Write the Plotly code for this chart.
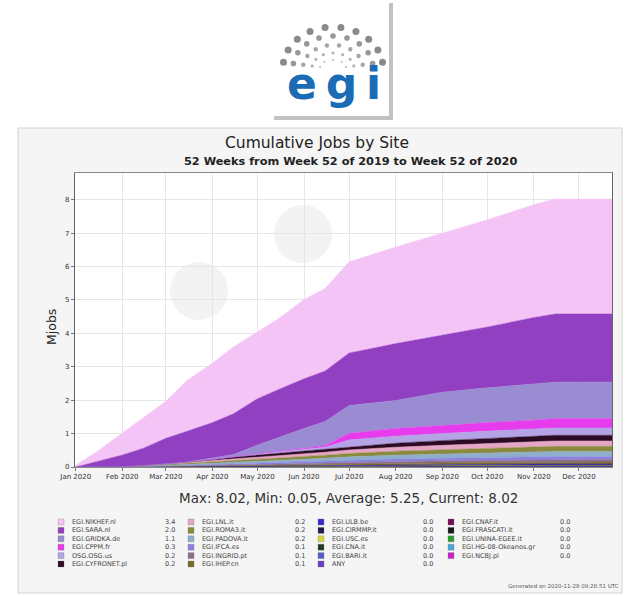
import plotly.graph_objects as go
import math

# ---------------- data ----------------
dates = ["2020-01-01", "2020-01-15", "2020-02-01", "2020-02-15", "2020-03-01",
         "2020-03-15", "2020-04-01", "2020-04-15", "2020-05-01", "2020-05-15",
         "2020-06-01", "2020-06-15", "2020-07-01", "2020-08-01", "2020-09-01",
         "2020-10-01", "2020-11-01", "2020-11-15", "2020-12-23"]

month_ticks = ["2020-01-01", "2020-02-01", "2020-03-01", "2020-04-01", "2020-05-01",
               "2020-06-01", "2020-07-01", "2020-08-01", "2020-09-01", "2020-10-01",
               "2020-11-01", "2020-12-01"]
month_labels = ["Jan 2020", "Feb 2020", "Mar 2020", "Apr 2020", "May 2020", "Jun 2020",
                "Jul 2020", "Aug 2020", "Sep 2020", "Oct 2020", "Nov 2020", "Dec 2020"]

site_names = ["EGI.NIKHEF.nl", "EGI.SARA.nl", "EGI.GRIDKA.de", "EGI.CPPM.fr",
              "OSG.OSG.us", "EGI.CYFRONET.pl", "EGI.LNL.it", "EGI.ROMA3.it",
              "EGI.PADOVA.it", "EGI.IFCA.es", "EGI.INGRID.pt", "EGI.IHEP.cn",
              "EGI.ULB.be", "EGI.CIRMMP.it", "EGI.USC.es", "EGI.CNA.it",
              "EGI.BARI.it", "ANY", "EGI.CNAF.it", "EGI.FRASCATI.it",
              "EGI.UNINA-EGEE.it", "EGI.HG-08-Okeanos.gr", "EGI.NCBJ.pl"]

legend_values = ["3.4", "2.0", "1.1", "0.3", "0.2", "0.2", "0.2", "0.2", "0.2",
                 "0.1", "0.1", "0.1", "0.0", "0.0", "0.0", "0.0", "0.0", "0.0",
                 "0.0", "0.0", "0.0", "0.0", "0.0"]

nikhef = [0.05, 0.29, 0.66, 0.91, 1.11, 1.52, 1.78, 2.00, 2.00, 2.12, 2.37, 2.47, 2.73, 2.89, 3.05, 3.21, 3.38, 3.44, 3.44]
sara = [0.0, 0.17, 0.35, 0.52, 0.77, 0.92, 1.06, 1.22, 1.39, 1.43, 1.49, 1.51, 1.57, 1.70, 1.71, 1.82, 1.99, 2.04, 2.04]
gridka = [0.0, 0.0, 0.0, 0.0, 0.0, 0.0, 0.04, 0.06, 0.26, 0.42, 0.60, 0.72, 0.83, 0.84, 0.985, 1.04, 1.08, 1.09, 1.09]
cppm = [0, 0, 0, 0, 0, 0, 0, 0, 0.01, 0.02, 0.03, 0.05, 0.20, 0.23, 0.25, 0.26, 0.27, 0.28, 0.28]
osg = [0, 0, 0, 0, 0, 0, 0.01, 0.02, 0.03, 0.04, 0.05, 0.06, 0.20, 0.21, 0.215, 0.22, 0.22, 0.22, 0.22]
cyfronet = [0, 0, 0, 0, 0, 0.01, 0.03, 0.05, 0.06, 0.07, 0.08, 0.09, 0.10, 0.12, 0.14, 0.15, 0.16, 0.17, 0.17]
lnl = [0, 0, 0.002, 0.01, 0.02, 0.03, 0.04, 0.05, 0.06, 0.07, 0.08, 0.09, 0.105, 0.12, 0.135, 0.145, 0.155, 0.16, 0.16]
roma3 = [0, 0, 0.002, 0.01, 0.02, 0.03, 0.04, 0.05, 0.06, 0.07, 0.08, 0.09, 0.10, 0.12, 0.13, 0.14, 0.15, 0.155, 0.155]
padova = [0, 0, 0.002, 0.01, 0.02, 0.03, 0.04, 0.05, 0.06, 0.065, 0.075, 0.085, 0.10, 0.115, 0.125, 0.135, 0.145, 0.15, 0.15]
ifca = [0, 0, 0.001, 0.005, 0.01, 0.015, 0.02, 0.03, 0.035, 0.04, 0.045, 0.05, 0.06, 0.07, 0.075, 0.08, 0.087, 0.09, 0.09]
ingrid = [0, 0, 0.001, 0.005, 0.01, 0.015, 0.02, 0.025, 0.03, 0.035, 0.04, 0.045, 0.05, 0.058, 0.063, 0.068, 0.072, 0.075, 0.075]
ihep = [0, 0, 0.001, 0.004, 0.008, 0.012, 0.016, 0.02, 0.024, 0.028, 0.032, 0.036, 0.04, 0.046, 0.05, 0.054, 0.057, 0.06, 0.06]
ulb = [0, 0, 0, 0, 0.001, 0.002, 0.003, 0.004, 0.005, 0.006, 0.007, 0.008, 0.01, 0.012, 0.014, 0.016, 0.018, 0.02, 0.02]
cirmmp = [0, 0, 0, 0, 0.001, 0.002, 0.003, 0.004, 0.005, 0.006, 0.007, 0.008, 0.009, 0.01, 0.011, 0.012, 0.014, 0.015, 0.015]
usc = [0, 0, 0, 0, 0.001, 0.001, 0.002, 0.003, 0.004, 0.005, 0.006, 0.007, 0.008, 0.009, 0.01, 0.011, 0.012, 0.012, 0.012]
cna = [0, 0, 0, 0, 0, 0.001, 0.002, 0.002, 0.003, 0.004, 0.005, 0.006, 0.007, 0.008, 0.008, 0.009, 0.01, 0.01, 0.01]
bari = [0, 0, 0, 0, 0, 0.001, 0.001, 0.002, 0.003, 0.003, 0.004, 0.005, 0.005, 0.006, 0.007, 0.007, 0.008, 0.008, 0.008]
any_site = [0, 0, 0, 0, 0, 0, 0.001, 0.001, 0.002, 0.003, 0.003, 0.004, 0.005, 0.005, 0.006, 0.006, 0.007, 0.007, 0.007]
cnaf = [0, 0, 0, 0, 0, 0, 0.001, 0.001, 0.002, 0.002, 0.003, 0.003, 0.004, 0.004, 0.005, 0.005, 0.006, 0.006, 0.006]
frascati = [0, 0, 0, 0, 0, 0, 0, 0.001, 0.001, 0.002, 0.002, 0.003, 0.003, 0.004, 0.004, 0.005, 0.005, 0.005, 0.005]
unina = [0, 0, 0, 0, 0, 0, 0, 0.001, 0.001, 0.001, 0.002, 0.002, 0.003, 0.003, 0.003, 0.004, 0.004, 0.004, 0.004]
hg08 = [0, 0, 0, 0, 0, 0, 0, 0, 0.001, 0.001, 0.001, 0.001, 0.001, 0.002, 0.002, 0.002, 0.002, 0.002, 0.002]
ncbj = [0, 0, 0, 0, 0, 0, 0, 0, 0, 0, 0.001, 0.001, 0.001, 0.001, 0.001, 0.001, 0.001, 0.001, 0.001]

series_values = [nikhef, sara, gridka, cppm, osg, cyfronet, lnl, roma3, padova,
                 ifca, ingrid, ihep, ulb, cirmmp, usc, cna, bari, any_site,
                 cnaf, frascati, unina, hg08, ncbj]

site_colors = ["#f5c4f6", "#9040c0", "#9a8cd2", "#e63cee", "#b4a4e6", "#2c0a24",
               "#e6a6c6", "#8a8a3c", "#8eaecc", "#8a82de", "#8e6e8a", "#7a6a2c",
               "#3a2ad0", "#1c1c52", "#d6d63e", "#1e3c22", "#5a5ac6", "#6a3cc6",
               "#7a0a5a", "#1a1a1a", "#2c9a2c", "#48a6d8", "#c820c8"]

title_text = "Cumulative Jobs by Site"
subtitle_text = "52 Weeks from Week 52 of 2019 to Week 52 of 2020"
stats_text = "Max: 8.02, Min: 0.05, Average: 5.25, Current: 8.02"
generated_text = "Generated on 2020-11-28 09:28:51 UTC"
y_title = "Mjobs"
y_ticks = [0, 1, 2, 3, 4, 5, 6, 7, 8]

# ---------------- geometry helpers (pixel -> paper) ----------------
W, H = 626, 596
PL, PR, PT, PB = 75, 612, 173, 467


def px(x):
    return (x - PL) / (PR - PL)


def py(y):
    return (PB - y) / (PB - PT)


FONT = "DejaVu Sans"

fig = go.Figure()

# stacked areas: smallest at bottom, largest on top
for name, vals, col in reversed(list(zip(site_names, series_values, site_colors))):
    fig.add_trace(go.Scatter(
        x=dates, y=vals, name=name, mode="lines", stackgroup="one",
        line=dict(width=0.5, color=col), fillcolor=col, hoverinfo="x+y+name"))

shapes = []
annotations = []

# background panel
shapes.append(dict(type="rect", xref="paper", yref="paper", layer="below",
                   x0=px(18), x1=px(622), y0=py(593), y1=py(128),
                   fillcolor="#f5f5f5", line=dict(color="#d4d4d4", width=1)))
# plot area white
shapes.append(dict(type="rect", xref="paper", yref="paper", layer="below",
                   x0=0, x1=1, y0=0, y1=1, fillcolor="white", line=dict(width=0)))
# faint watermark circles
for cx, cy, r in [(199, 291, 29), (303, 234, 29)]:
    shapes.append(dict(type="circle", xref="paper", yref="paper", layer="below",
                       x0=px(cx - r), x1=px(cx + r), y0=py(cy + r), y1=py(cy - r),
                       fillcolor="#f3f3f3", line=dict(width=0)))

# ---- logo ----
shapes.append(dict(type="rect", xref="paper", yref="paper",
                   x0=px(274), x1=px(393), y0=py(120), y1=py(3),
                   fillcolor="#8f8f8f", opacity=0.55, line=dict(width=0)))
shapes.append(dict(type="rect", xref="paper", yref="paper",
                   x0=px(270), x1=px(389), y0=py(116), y1=py(-2),
                   fillcolor="white", line=dict(width=0)))
rings = [(50, 41, 10, 7.0, "#8a8a8a"), (40, 32, 9, 5.6, "#989898"),
         (30, 23, 8, 4.4, "#a6a6a6"), (21, 15, 7, 3.2, "#b4b4b4"),
         (13, 8, 5, 2.2, "#c2c2c2")]
lcx, lcy = 333, 68
for rx, ry, n, d, col in rings:
    for i in range(n):
        a = math.radians(8 + i * (164 / (n - 1)))
        dx = lcx + rx * math.cos(a)
        dy = lcy - ry * math.sin(a)
        shapes.append(dict(type="circle", xref="paper", yref="paper",
                           x0=px(dx - d / 2), x1=px(dx + d / 2),
                           y0=py(dy + d / 2), y1=py(dy - d / 2),
                           fillcolor=col, line=dict(width=0)))
annotations.append(dict(text="<b>e\u2009g\u2009i</b>", xref="paper", yref="paper",
                        x=px(334), y=py(83), xanchor="center", yanchor="middle",
                        showarrow=False,
                        font=dict(family=FONT, size=44, color="#1a6db5")))

# ---- titles ----
annotations.append(dict(text=title_text, xref="paper", yref="paper", x=px(317), y=py(143),
                        xanchor="center", yanchor="middle", showarrow=False,
                        font=dict(family=FONT, size=15.5, color="#222")))
annotations.append(dict(text="<b>" + subtitle_text + "</b>", xref="paper", yref="paper",
                        x=px(350), y=py(161), xanchor="center", yanchor="middle",
                        showarrow=False, font=dict(family=FONT, size=11.3, color="#222")))
annotations.append(dict(text=y_title, xref="paper", yref="paper", x=px(51), y=py(327),
                        xanchor="center", yanchor="middle", textangle=-90, showarrow=False,
                        font=dict(family=FONT, size=12.5, color="#222")))
annotations.append(dict(text=stats_text, xref="paper", yref="paper", x=px(348), y=py(498),
                        xanchor="center", yanchor="middle", showarrow=False,
                        font=dict(family=FONT, size=13.5, color="#333")))
annotations.append(dict(text=generated_text, xref="paper", yref="paper", x=px(621), y=py(586),
                        xanchor="right", yanchor="middle", showarrow=False,
                        font=dict(family=FONT, size=5.5, color="#555")))

# ---- custom legend (4 columns x 6 rows) ----
col_sq = [58, 188, 318, 448]
col_val = [163, 293, 421, 558]
row_y0, row_dy = 522, 8.4
for i, (name, col, val) in enumerate(zip(site_names, site_colors, legend_values)):
    c, r = divmod(i, 6)
    yc = row_y0 + r * row_dy
    shapes.append(dict(type="rect", xref="paper", yref="paper",
                       x0=px(col_sq[c]), x1=px(col_sq[c] + 6),
                       y0=py(yc + 3), y1=py(yc - 3),
                       fillcolor=col, line=dict(color="#777", width=0.3)))
    annotations.append(dict(text=name, xref="paper", yref="paper",
                            x=px(col_sq[c] + 12), y=py(yc), xanchor="left", yanchor="middle",
                            showarrow=False, font=dict(family=FONT, size=6.5, color="#444")))
    annotations.append(dict(text=val, xref="paper", yref="paper",
                            x=px(col_val[c]), y=py(yc), xanchor="left", yanchor="middle",
                            showarrow=False, font=dict(family=FONT, size=6.5, color="#444")))

fig.update_layout(
    width=W, height=H, autosize=False,
    margin=dict(l=PL, r=W - PR, t=PT, b=H - PB, pad=0),
    paper_bgcolor="white", plot_bgcolor="rgba(0,0,0,0)",
    showlegend=False,
    shapes=shapes, annotations=annotations,
    font=dict(family=FONT, color="#333"),
    xaxis=dict(type="date", range=["2019-12-31 12:00", "2020-12-23"],
               tickmode="array", tickvals=month_ticks, ticktext=month_labels,
               ticks="outside", ticklen=3, tickcolor="#777", tickangle=0,
               tickfont=dict(family=FONT, size=7, color="#333"),
               showgrid=True, gridcolor="#e6e6e6", gridwidth=1,
               showline=True, linecolor="#888", linewidth=1, mirror=True),
    yaxis=dict(range=[0, 8.8], tickmode="array", tickvals=y_ticks,
               ticks="outside", ticklen=3, tickcolor="#777",
               tickfont=dict(family=FONT, size=7, color="#333"),
               showgrid=True, gridcolor="#e6e6e6", gridwidth=1, zeroline=False,
               showline=True, linecolor="#666", linewidth=1.2, mirror=True),
)

fig.write_html("out.html", config={"displayModeBar": False},
               post_script="document.body.style.margin='0px';document.body.style.padding='0px';document.body.style.overflow='hidden';")
